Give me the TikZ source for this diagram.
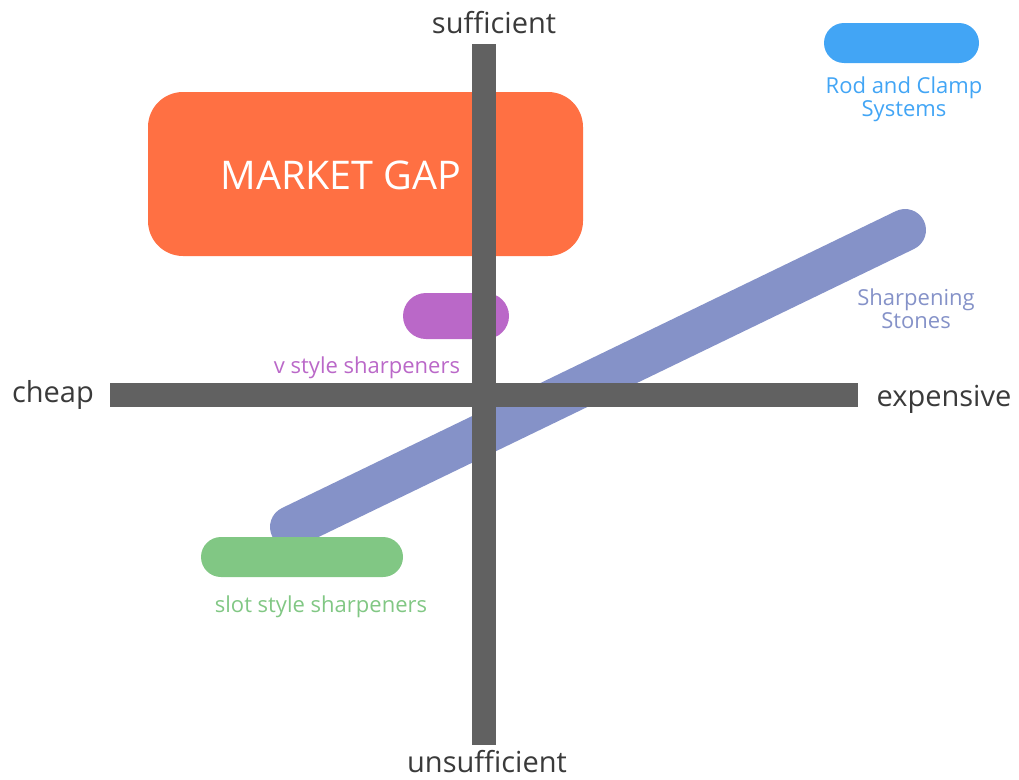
\documentclass[tikz,border=0pt]{standalone}
\usepackage{fontspec}
\setmainfont{Open Sans}
\definecolor{axisgrey}{HTML}{616161}
\definecolor{labelgrey}{HTML}{3A3A3A}
\definecolor{gaporange}{HTML}{FF7043}
\definecolor{rodblue}{HTML}{42A5F5}
\definecolor{vpurple}{HTML}{BA68C8}
\definecolor{slotgreen}{HTML}{81C784}
\definecolor{stoneblue}{HTML}{8592C8}
\tikzset{
  axislabel/.style={anchor=base, text=labelgrey, inner sep=0pt, font=\fontsize{29}{29}\selectfont},
  catlabel/.style={anchor=base, inner sep=0pt, align=center, font=\fontsize{22}{18}\selectfont},
  axisbar/.style={fill=axisgrey}
}
\begin{document}
\begin{tikzpicture}[x=1pt,y=-1pt]
\useasboundingbox (0,0) rectangle (1019,779);
% stones stroke
\coordinate (stA) at (291,527);
\coordinate (stB) at (905,230);
\draw[stoneblue, line width=42pt, line cap=round] (stA) -- (stB);
% market gap box
\fill[gaporange, rounded corners=35pt] (148,92) rectangle (583,256);
\node[text=white, inner sep=0pt, font=\fontsize{39.5}{39.5}\selectfont] (gap) at (341,175) {MARKET GAP};
% pills
\fill[rodblue, rounded corners=20pt] (824,23) rectangle (979,63);
\fill[vpurple, rounded corners=23pt] (403,293) rectangle (509,339);
\fill[slotgreen, rounded corners=20pt] (201,537) rectangle (403,577);
% axes
\fill[axisbar] (472,44) rectangle (496,745);
\fill[axisbar] (110,383) rectangle (858,407);
% axis labels
\node[axislabel] (suff) at (494,33) {sufficient};
\node[axislabel] (unsuff) at (487,772) {unsufficient};
\node[axislabel] (cheap) at (53,402) {cheap};
\node[axislabel] (exp) at (944,406) {expensive};
% category labels (base = last line's baseline)
\node[catlabel, text=rodblue] (rod) at (904,116) {Rod and Clamp\\Systems};
\node[catlabel, text=stoneblue] (stone) at (916,328) {Sharpening\\Stones};
\node[catlabel, text=vpurple] (vst) at (367,373) {v style sharpeners};
\node[catlabel, text=slotgreen] (slot) at (321,612) {slot style sharpeners};
\end{tikzpicture}
\end{document}
